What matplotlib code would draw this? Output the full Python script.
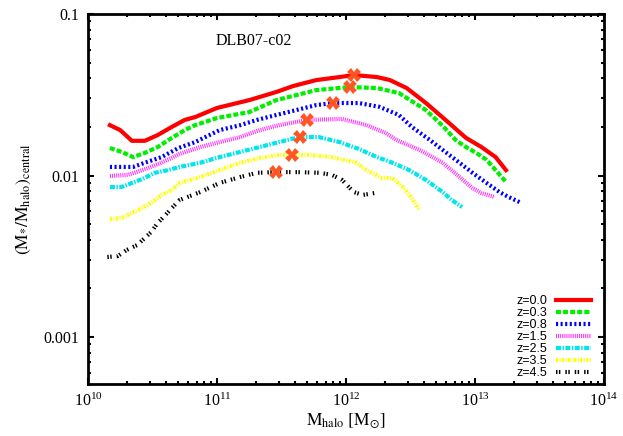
import numpy as np
import matplotlib
matplotlib.use("Agg")
import matplotlib.pyplot as plt
from matplotlib.ticker import LogLocator, FixedLocator, FixedFormatter, NullFormatter

plt.rcParams['font.family'] = 'serif'
plt.rcParams['font.serif'] = ['Liberation Serif', 'DejaVu Serif']
plt.rcParams['mathtext.fontset'] = 'stix'

# log10(M_halo) and (M*/M_halo)_central
logm_z00 = [10.17, 10.25, 10.34, 10.44, 10.54, 10.65, 10.75, 10.83, 11.00, 11.25, 11.46, 11.59,
            11.77, 11.95, 12.06, 12.24, 12.34, 12.47, 12.62, 12.80, 12.93, 13.05, 13.16, 13.24]
frac_z00 = [0.0205, 0.0191, 0.0164, 0.0164, 0.0178, 0.0200, 0.0221, 0.0230, 0.0262, 0.0293, 0.0329, 0.0358,
            0.0390, 0.0407, 0.0419, 0.0407, 0.0390, 0.0348, 0.0281, 0.0211, 0.0171, 0.0150, 0.0130, 0.0108]

logm_z03 = [10.17, 10.26, 10.35, 10.44, 10.54, 10.65, 10.75, 10.83, 11.00, 11.25, 11.46, 11.77,
            12.03, 12.24, 12.41, 12.62, 12.75, 12.85, 12.93, 13.01, 13.09, 13.16, 13.24]
frac_z03 = [0.0148, 0.0140, 0.0130, 0.0138, 0.0150, 0.0171, 0.0191, 0.0205, 0.0227, 0.0247, 0.0293, 0.0338,
            0.0353, 0.0348, 0.0324, 0.0254, 0.0203, 0.0166, 0.0150, 0.0138, 0.0125, 0.0108, 0.00912]

logm_z08 = [10.17, 10.26, 10.35, 10.44, 10.57, 10.70, 10.83, 11.02, 11.18, 11.31, 11.46, 11.77, 11.90,
            12.10, 12.26, 12.41, 12.51, 12.65, 12.78, 12.88, 12.98, 13.09, 13.19, 13.26, 13.36]
frac_z08 = [0.0113, 0.0113, 0.0113, 0.0120, 0.0130, 0.0148, 0.0161, 0.0191, 0.0205, 0.0221, 0.0237, 0.0273, 0.0281,
            0.0281, 0.0266, 0.0237, 0.0200, 0.0166, 0.0138, 0.0120, 0.0104, 0.00899, 0.00790, 0.00736, 0.00676]

logm_z15 = [10.17, 10.31, 10.42, 10.57, 10.71, 10.87, 11.02, 11.18, 11.33, 11.48, 11.70, 11.97,
            12.16, 12.31, 12.39, 12.57, 12.75, 12.88, 12.98, 13.05, 13.15]
frac_z15 = [0.00993, 0.0101, 0.0108, 0.0120, 0.0136, 0.0150, 0.0161, 0.0173, 0.0191, 0.0205, 0.0221, 0.0224,
            0.0205, 0.0183, 0.0166, 0.0144, 0.0120, 0.00979, 0.00837, 0.00779, 0.00736]

logm_z25 = [10.17, 10.26, 10.34, 10.42, 10.52, 10.62, 10.71, 10.87, 11.02, 11.18, 11.33, 11.48, 11.64,
            11.79, 11.95, 12.10, 12.24, 12.36, 12.49, 12.62, 12.75, 12.82, 12.90]
frac_z25 = [0.00849, 0.00849, 0.00899, 0.00951, 0.0104, 0.0108, 0.0113, 0.0120, 0.0130, 0.0140, 0.0150, 0.0161, 0.0173,
            0.0173, 0.0161, 0.0146, 0.0130, 0.0120, 0.0108, 0.00938, 0.00790, 0.00705, 0.00638]

logm_z35 = [10.17, 10.26, 10.34, 10.42, 10.50, 10.57, 10.65, 10.71, 10.87, 11.02, 11.18, 11.33, 11.48,
            11.72, 11.89, 12.08, 12.16, 12.28, 12.36, 12.44, 12.51, 12.57]
frac_z35 = [0.00538, 0.00545, 0.00586, 0.00629, 0.00685, 0.00758, 0.00813, 0.00899, 0.00979, 0.0108, 0.0120, 0.0128, 0.0134,
            0.0134, 0.0130, 0.0120, 0.0108, 0.00965, 0.00965, 0.00849, 0.00726, 0.00611]

logm_z45 = [10.15, 10.23, 10.30, 10.38, 10.44, 10.49, 10.54, 10.60, 10.65, 10.71, 10.87, 11.02, 11.18,
            11.31, 11.46, 11.62, 11.79, 11.89, 11.97, 12.06, 12.13, 12.22]
frac_z45 = [0.00313, 0.00317, 0.00346, 0.00371, 0.00410, 0.00447, 0.00508, 0.00569, 0.00629, 0.00705, 0.00790, 0.00899, 0.00979,
            0.0104, 0.0105, 0.0105, 0.0104, 0.0101, 0.00938, 0.00790, 0.00758, 0.00779]

# peak positions (crosses)
peak_logm = [12.06, 12.03, 11.90, 11.70, 11.64, 11.58, 11.46]
peak_frac = [0.0419, 0.0353, 0.0281, 0.0221, 0.0173, 0.0134, 0.0105]

labels = ["z=0.0", "z=0.3", "z=0.8", "z=1.5", "z=2.5", "z=3.5", "z=4.5"]
colors = ["#ff0000", "#00ee00", "#0000ff", "#ff33ff", "#00e5ee", "#ffff00", "#000000"]
dashes = [None, (1.2, 0.5), (0.5, 0.6), (0.25, 0.25), (1.2, 0.35, 0.35, 0.35),
          (0.5, 0.35, 0.25, 0.35), (0.35, 0.35, 0.35, 1.2)]
logms = [logm_z00, logm_z03, logm_z08, logm_z15, logm_z25, logm_z35, logm_z45]
fracs = [frac_z00, frac_z03, frac_z08, frac_z15, frac_z25, frac_z35, frac_z45]

fig = plt.figure(figsize=(6.23, 4.36), dpi=100)
ax = fig.add_axes([88/623, 1-384/436, (604-88)/623, (384-14)/436])

for lm, fr, c, d, lab in zip(logms, fracs, colors, dashes, labels):
    line, = ax.plot(np.power(10.0, lm), fr, color=c, lw=3, label=lab)
    if d is not None:
        line.set_dashes(d)

ax.plot(np.power(10.0, peak_logm), peak_frac, linestyle="none", marker="X",
        markersize=9.5, color="#ff5522", markeredgewidth=0, zorder=5)

ax.set_xscale("log")
ax.set_yscale("log")
ax.set_xlim(1e10, 1e14)
ax.set_ylim(5.12e-4, 0.1)

ax.yaxis.set_major_locator(FixedLocator([0.001, 0.01, 0.1]))
ax.yaxis.set_major_formatter(FixedFormatter(["0.001", "0.01", "0.1"]))
ax.yaxis.set_minor_locator(LogLocator(base=10, subs=np.arange(2, 10)))
ax.yaxis.set_minor_formatter(NullFormatter())
ax.xaxis.set_major_locator(LogLocator(base=10, numticks=10))
ax.xaxis.set_minor_locator(LogLocator(base=10, subs=np.arange(2, 10), numticks=10))
ax.xaxis.set_minor_formatter(NullFormatter())

ax.tick_params(which="both", direction="in", top=True, right=True, width=1.5, labelsize=11.5)
ax.tick_params(which="major", length=4.5)
ax.tick_params(which="minor", length=2.5)
ax.tick_params(axis="x", pad=6)
ax.tick_params(axis="y", pad=6)
for s in ax.spines.values():
    s.set_linewidth(2)

ax.set_xlabel(r"$\mathrm{M_{halo}\ [M_{\odot}]}$", fontsize=12.5, labelpad=1)
ax.set_ylabel(r"$\mathrm{(M_{*}/M_{halo})_{central}}$", fontsize=12.5, labelpad=8)

ax.text(0.322, 0.927, "DLB07-c02", transform=ax.transAxes, fontsize=11.5,
        ha="center", va="center")

ax.legend(loc="lower right", bbox_to_anchor=(0.984, 0.0), frameon=False,
          markerfirst=False, prop={"family": "Liberation Sans", "size": 9},
          handlelength=2.8, handletextpad=0.66, labelspacing=0.0,
          borderaxespad=0, borderpad=0.4)

plt.savefig("out.png", dpi=100)
